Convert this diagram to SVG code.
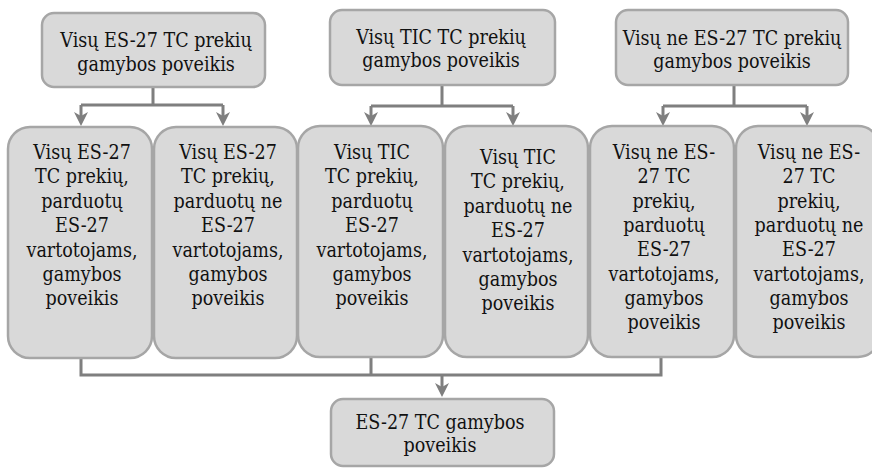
<svg xmlns="http://www.w3.org/2000/svg" width="872" height="469" viewBox="0 0 872 469">
<style>
.box{fill:#d9d9d9;stroke:#a6a6a6;stroke-width:2.5}
.t{font-family:'DejaVu Serif Condensed','DejaVu Serif',serif;font-stretch:condensed;font-size:19.5px;fill:#111;text-anchor:middle}
.c{fill:none;stroke:#7f7f7f;stroke-width:3}
</style>
<defs>
<marker id="ah" markerUnits="userSpaceOnUse" viewBox="0 0 14 14" markerWidth="14" markerHeight="14" refX="8" refY="7" orient="auto">
<path d="M0,0 L14,7 L0,14 L4,7 z" fill="#7f7f7f"/>
</marker>
</defs>
<rect width="872" height="469" fill="#fff"/>
<g id="connectors">
<path class="c" d="M153,87 V105 M81,105 H223"/>
<path class="c" d="M81,105 V120" marker-end="url(#ah)"/>
<path class="c" d="M223,105 V120" marker-end="url(#ah)"/>
<path class="c" d="M442,85 V106 M371,106 H513"/>
<path class="c" d="M371,106 V120" marker-end="url(#ah)"/>
<path class="c" d="M513,106 V120" marker-end="url(#ah)"/>
<path class="c" d="M734,85 V106 M663,106 H807"/>
<path class="c" d="M663,106 V120" marker-end="url(#ah)"/>
<path class="c" d="M807,106 V120" marker-end="url(#ah)"/>
<path class="c" d="M81,358 V375 H661 V357 M371,357 V375"/>
<path class="c" d="M442,375 V391" marker-end="url(#ah)"/>
</g>
<g id="top1">
<rect class="box" x="42" y="13" width="223" height="74" rx="12"/>
<text class="t" x="156" y="47">Visų ES-27 TC prekių<tspan x="156" dy="23.5">gamybos poveikis</tspan></text>
</g>
<g id="top2">
<rect class="box" x="330" y="10" width="225" height="75" rx="12"/>
<text class="t" x="441" y="44">Visų TIC TC prekių<tspan x="441" dy="23">gamybos poveikis</tspan></text>
</g>
<g id="top3">
<rect class="box" x="616" y="10" width="232" height="75" rx="12"/>
<text class="t" x="732" y="45">Visų ne ES-27 TC prekių<tspan x="732" dy="23">gamybos poveikis</tspan></text>
</g>
<g id="mid1">
<rect class="box" x="8" y="127" width="144" height="231" rx="22"/>
<text class="t" x="82" y="159">Visų ES-27<tspan x="82" dy="24.4">TC prekių,</tspan><tspan x="82" dy="24.4">parduotų</tspan><tspan x="82" dy="24.4">ES-27</tspan><tspan x="82" dy="24.4">vartotojams,</tspan><tspan x="82" dy="24.4">gamybos</tspan><tspan x="82" dy="24.4">poveikis</tspan></text>
</g>
<g id="mid2">
<rect class="box" x="154" y="127" width="143" height="231" rx="22"/>
<text class="t" x="228" y="159">Visų ES-27<tspan x="228" dy="24.4">TC prekių,</tspan><tspan x="228" dy="24.4">parduotų ne</tspan><tspan x="228" dy="24.4">ES-27</tspan><tspan x="228" dy="24.4">vartotojams,</tspan><tspan x="228" dy="24.4">gamybos</tspan><tspan x="228" dy="24.4">poveikis</tspan></text>
</g>
<g id="mid3">
<rect class="box" x="298" y="126" width="145" height="231" rx="22"/>
<text class="t" x="372" y="159">Visų TIC<tspan x="372" dy="24.4">TC prekių,</tspan><tspan x="372" dy="24.4">parduotų</tspan><tspan x="372" dy="24.4">ES-27</tspan><tspan x="372" dy="24.4">vartotojams,</tspan><tspan x="372" dy="24.4">gamybos</tspan><tspan x="372" dy="24.4">poveikis</tspan></text>
</g>
<g id="mid4">
<rect class="box" x="445" y="126" width="143" height="231" rx="22"/>
<text class="t" x="518" y="164">Visų TIC<tspan x="518" dy="24.4">TC prekių,</tspan><tspan x="518" dy="24.4">parduotų ne</tspan><tspan x="518" dy="24.4">ES-27</tspan><tspan x="518" dy="24.4">vartotojams,</tspan><tspan x="518" dy="24.4">gamybos</tspan><tspan x="518" dy="24.4">poveikis</tspan></text>
</g>
<g id="mid5">
<rect class="box" x="590" y="126" width="144" height="231" rx="22"/>
<text class="t" x="664" y="159">Visų ne ES-<tspan x="664" dy="24.3">27 TC</tspan><tspan x="664" dy="24.3">prekių,</tspan><tspan x="664" dy="24.3">parduotų</tspan><tspan x="664" dy="24.3">ES-27</tspan><tspan x="664" dy="24.3">vartotojams,</tspan><tspan x="664" dy="24.3">gamybos</tspan><tspan x="664" dy="24.3">poveikis</tspan></text>
</g>
<g id="mid6">
<rect class="box" x="736" y="126" width="144" height="231" rx="22"/>
<text class="t" x="809" y="159">Visų ne ES-<tspan x="809" dy="24.3">27 TC</tspan><tspan x="809" dy="24.3">prekių,</tspan><tspan x="809" dy="24.3">parduotų ne</tspan><tspan x="809" dy="24.3">ES-27</tspan><tspan x="809" dy="24.3">vartotojams,</tspan><tspan x="809" dy="24.3">gamybos</tspan><tspan x="809" dy="24.3">poveikis</tspan></text>
</g>
<g id="bottom">
<rect class="box" x="331" y="399" width="223" height="67" rx="12"/>
<text class="t" x="440" y="429">ES-27 TC gamybos<tspan x="440" dy="23">poveikis</tspan></text>
</g>
</svg>
